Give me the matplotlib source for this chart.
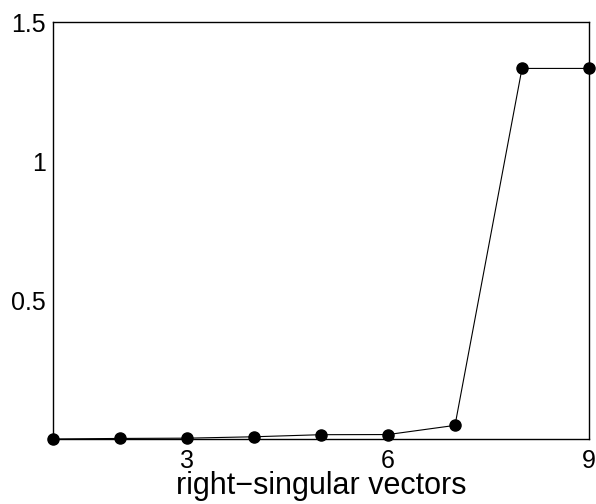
import matplotlib
matplotlib.use("Agg")
import matplotlib.pyplot as plt

# values per right-singular vector
vector_idx = [1, 2, 3, 4, 5, 6, 7, 8, 9]
values = [0.0, 0.002, 0.003, 0.008, 0.0155, 0.016, 0.049, 1.333, 1.333]

x_ticks = [3, 6, 9]
y_ticks = [0.5, 1, 1.5]

plt.rcParams['font.family'] = ['Liberation Sans', 'DejaVu Sans']

fig = plt.figure(figsize=(5.96, 5.04), dpi=100)
ax = fig.add_axes([53 / 596, 1 - 439 / 504, 536 / 596, 417 / 504])

ax.plot(vector_idx, values, color='black', linewidth=0.8,
        marker='o', markersize=8, clip_on=False, zorder=3)

ax.set_xlim(1, 9)
ax.set_ylim(0, 1.5)
ax.set_xticks(x_ticks)
ax.set_yticks(y_ticks)
ax.set_xticklabels([str(t) for t in x_ticks])
ax.set_yticklabels(['0.5', '1', '1.5'])
ax.tick_params(length=0, labelsize=18)
ax.tick_params(axis='x', pad=7)
ax.tick_params(axis='y', pad=5)
for s in ax.spines.values():
    s.set_linewidth(1.0)

ax.set_xlabel('right\u2212singular vectors', fontsize=22, labelpad=-1)

fig.savefig('out.png', dpi=100)
